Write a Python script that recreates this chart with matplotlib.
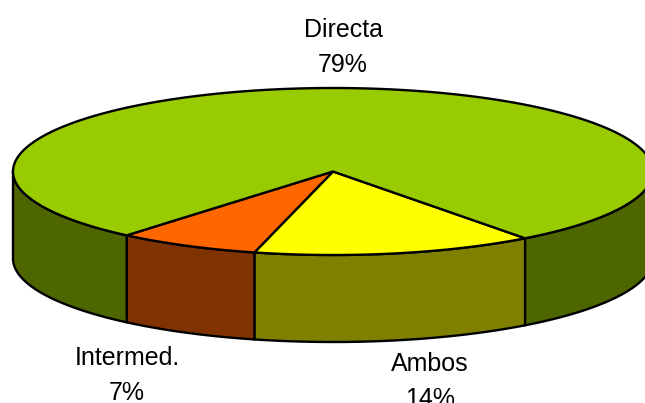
import matplotlib
matplotlib.use("Agg")
import matplotlib.pyplot as plt
import numpy as np

plt.rcParams['font.family'] = ['Liberation Sans', 'DejaVu Sans']

# clockwise from the right hand boundary of the yellow slice
labels = ["Ambos", "Intermed.", "Directa"]
values = [14.2, 7.2, 78.6]
top_colors = ["#FFFF00", "#FF6600", "#99CC00"]
side_colors = ["#808000", "#803300", "#4D6600"]

# label anchor (x, name baseline, percent baseline) in pixels
label_pos = [(430, 371, 406), (127, 365, 400), (343, 37, 72)]

cx, cy = 333, 171.5
rx, ry = 320, 83.5
depth = 87
start = -53.1
lw = 1.7


def arc(a, b, dy=0):
    t = np.radians(np.linspace(a, b, 200))
    return cx + rx * np.cos(t), cy - ry * np.sin(t) + dy


fig = plt.figure(figsize=(6.45, 4.03), dpi=100)
ax = fig.add_axes([0, 0, 1, 1])
ax.set_xlim(0, 645)
ax.set_ylim(403, 0)
ax.axis("off")

angles = start - np.cumsum([0] + values) * 3.6

# walls first, only the front half of the disc shows
for i in range(len(values)):
    a, b = angles[i], angles[i + 1]
    for hi, lo in [(0, -180), (-360, -540)]:
        a2, b2 = min(a, hi), max(b, lo)
        if a2 <= b2:
            continue
        x, y = arc(a2, b2)
        x2, y2 = arc(b2, a2, depth)
        ax.fill(np.r_[x, x2], np.r_[y, y2], facecolor=side_colors[i],
                edgecolor="black", linewidth=lw, joinstyle="round")

# top of the pie
for i in range(len(values)):
    x, y = arc(angles[i], angles[i + 1])
    ax.fill(np.r_[cx, x], np.r_[cy, y], facecolor=top_colors[i],
            edgecolor="black", linewidth=lw, joinstyle="round")

for i in range(len(values)):
    px, y1, y2 = label_pos[i]
    ax.text(px, y1, labels[i], ha="center", va="baseline", fontsize=18, color="black")
    ax.text(px, y2, "%.0f%%" % values[i], ha="center", va="baseline", fontsize=18, color="black")

fig.savefig("out.png", dpi=100)
